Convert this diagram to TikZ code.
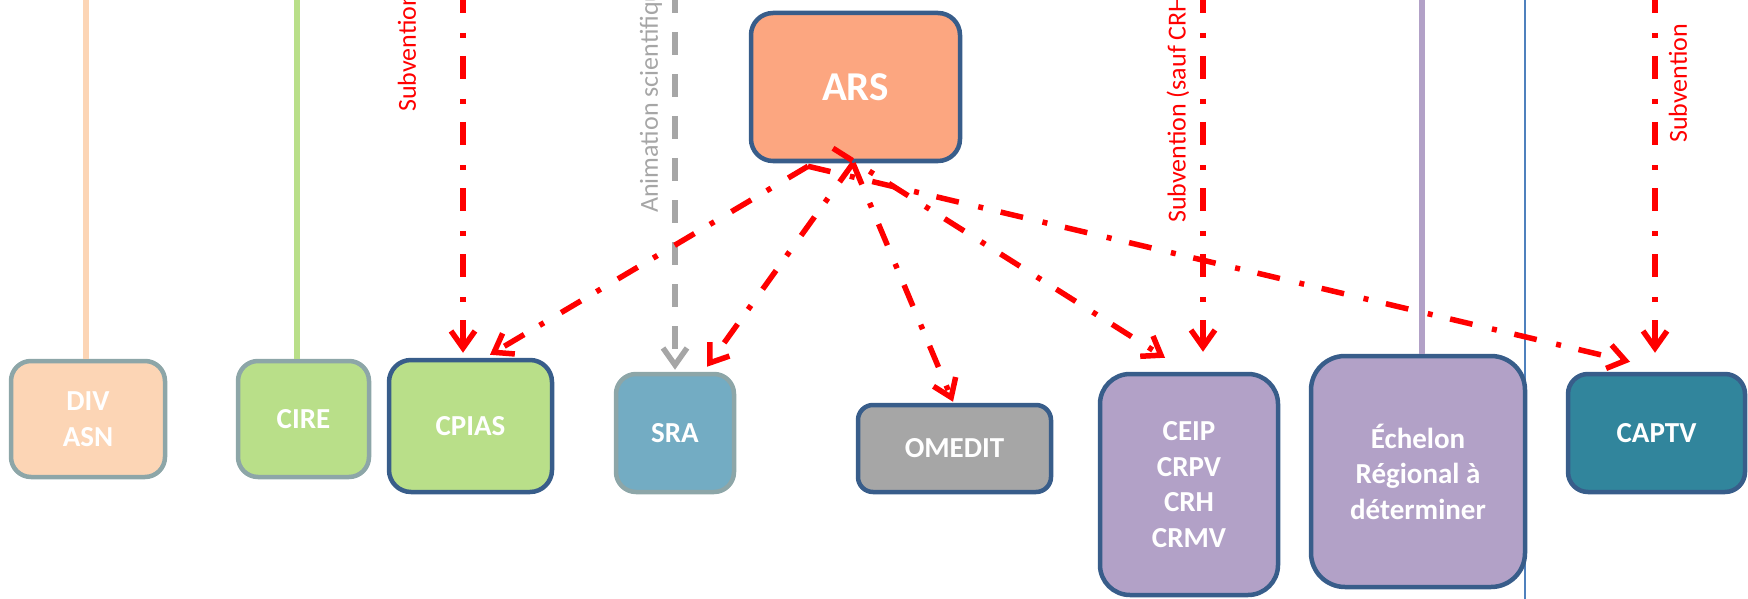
\documentclass[tikz,border=0pt]{standalone}
\usepackage{fontspec}
\setmainfont{Carlito}
\usetikzlibrary{arrows.meta}
\definecolor{arsfill}{RGB}{252,166,128}
\definecolor{peach}{RGB}{252,213,181}
\definecolor{leaf}{RGB}{185,223,137}
\definecolor{aqua}{RGB}{115,172,195}
\definecolor{midgray}{RGB}{166,166,166}
\definecolor{lilac}{RGB}{178,161,199}
\definecolor{captvteal}{RGB}{49,133,156}
\definecolor{edgeblue}{RGB}{56,93,138}
\definecolor{edgegray}{RGB}{141,166,168}
\definecolor{sepblue}{RGB}{79,129,189}
\tikzset{
  box/.style={draw=edgeblue, line width=4.5pt, rounded corners=22pt, text=white,
    align=center, inner sep=0pt, font=\fontsize{29}{35.5}\selectfont\bfseries},
  subv/.style={red, line width=5.5pt, dash pattern=on 23pt off 20pt on 5pt off 18pt,
    -{Straight Barb[length=17pt,width=24pt]}},
  anim/.style={midgray, line width=5.5pt, dash pattern=on 23pt off 19pt,
    -{Straight Barb[length=17pt,width=24pt]}},
  lbl/.style={rotate=90, anchor=west, inner sep=0pt, font=\fontsize{26}{31}\selectfont},
}
\begin{document}
\begin{tikzpicture}[x=1pt,y=-1pt]
  \useasboundingbox (0,0) rectangle (1748,599);
  \clip (0,0) rectangle (1748,599);
  \draw[sepblue, line width=1.5pt] (1525,0) -- (1525,599);

  \node[box, fill=arsfill, minimum width=209pt, minimum height=148pt,
    font=\fontsize{41}{49}\selectfont\bfseries] (ars) at (855.5,87) {ARS};
  \node[box, draw=edgegray, fill=peach, minimum width=154pt, minimum height=116pt, rounded corners=20pt] (div) at (88,419) {DIV\\ASN};
  \node[box, draw=edgegray, fill=leaf, minimum width=131pt, minimum height=116pt, rounded corners=20pt] (cire) at (303.5,419) {CIRE};
  \node[box, fill=leaf, minimum width=163pt, minimum height=132pt] (cpias) at (470.5,426) {CPIAS};
  \node[box, draw=edgegray, fill=aqua, minimum width=118pt, minimum height=118pt, rounded corners=20pt] (sra) at (675,433) {SRA};
  \node[box, fill=midgray, minimum width=193pt, minimum height=87pt, rounded corners=15pt] (omedit) at (954.5,448.5) {OMEDIT};
  \node[box, fill=lilac, minimum width=178pt, minimum height=221pt, rounded corners=30pt] (ceip) at (1189,484.5) {CEIP\\CRPV\\CRH\\CRMV};
  \node[box, fill=lilac, minimum width=214pt, minimum height=231pt, rounded corners=34pt] (echelon) at (1418,471.5) {Échelon\\Régional à\\déterminer};
  \node[box, fill=captvteal, minimum width=177pt, minimum height=118pt, rounded corners=20pt] (captv) at (1656.5,433) {CAPTV};

  \coordinate (divtop) at (86,-10);
  \coordinate (ciretop) at (297,-10);
  \coordinate (cpiastop) at (463,-10);
  \coordinate (sratop) at (675,-10);
  \coordinate (ceiptop) at (1203,-10);
  \coordinate (echelontop) at (1422,-10);
  \coordinate (captvtop) at (1655,-10);
  \draw[peach, line width=6pt] (divtop) -- (divtop |- div.north);
  \draw[leaf, line width=6pt] (ciretop) -- (ciretop |- cire.north);
  \draw[lilac, line width=6pt] (echelontop) -- (echelontop |- echelon.north);
  \draw[subv, shorten >=5pt] (cpiastop) -- (cpiastop |- cpias.north);
  \draw[anim, shorten >=2pt] (sratop) -- (sratop |- sra.north);
  \draw[subv, shorten >=20pt] (ceiptop) -- (ceiptop |- ceip.north);
  \draw[subv, shorten >=19pt] (captvtop) -- (captvtop |- captv.north);

  \node[lbl, red] (lblcpias) at (407,112) {Subvention};
  \node[lbl, midgray] (lblsra) at (651,213) {Animation scientifique};
  \node[lbl, red] (lblceip) at (1178,223) {Subvention (sauf CRH)};
  \node[lbl, red] (lblcaptv) at (1678,143) {Subvention};

  \coordinate (arsA) at ([xshift=-47.5pt, yshift=-3pt]ars.south);
  \coordinate (arsB) at ([xshift=-2.5pt]ars.south);
  \coordinate (arsC) at ([xshift=-22.5pt, yshift=15pt]ars.south);
  \draw[subv] (arsA) -- ([xshift=19.5pt, yshift=3pt]cpias.north);
  \draw[subv] (arsA) -- ([xshift=-26.5pt, yshift=10pt]captv.north);
  \draw[subv] (arsB) -- ([xshift=32pt, yshift=5pt]sra.north);
  \draw[subv] (arsB) -- ([xshift=-1.5pt, yshift=1pt]omedit.north);
  \draw[subv] (arsC) -- ([xshift=-24pt, yshift=14pt]ceip.north);
\end{tikzpicture}
\end{document}
